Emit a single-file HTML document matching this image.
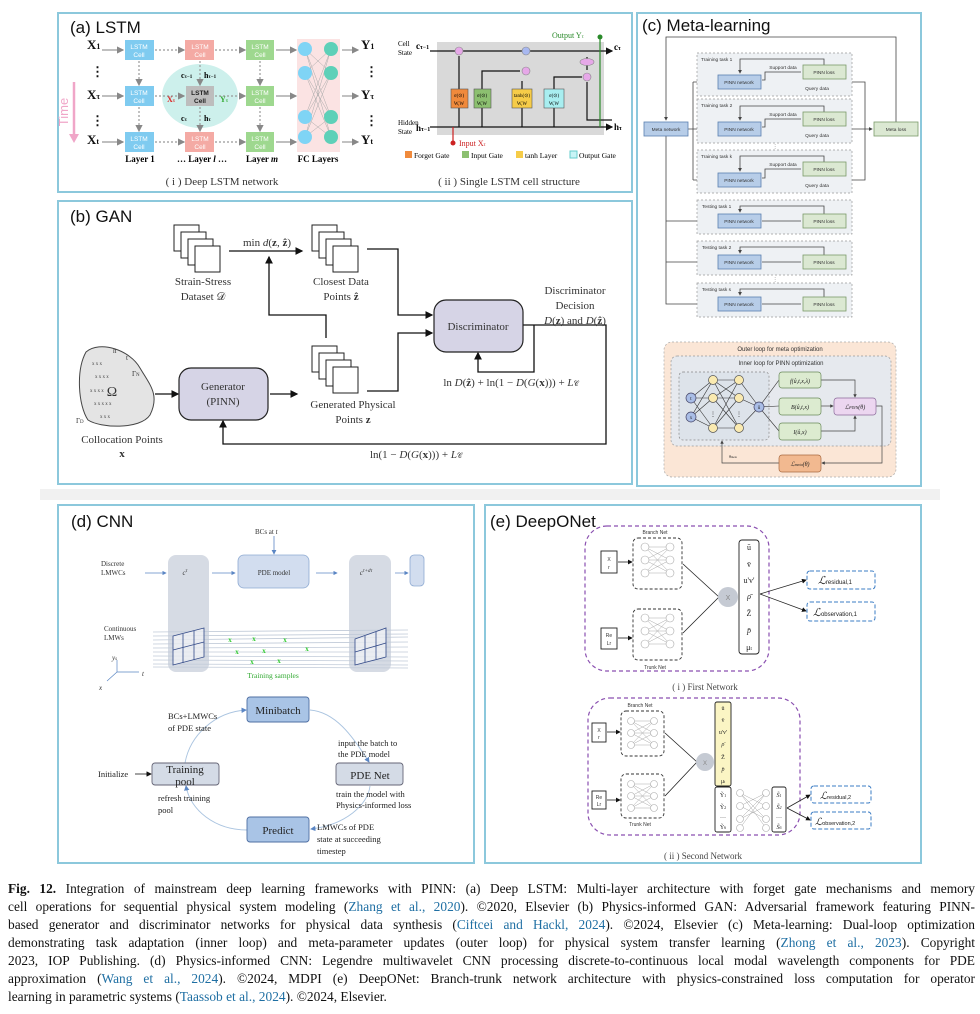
<!DOCTYPE html>
<html><head><meta charset="utf-8"><style>
body{margin:0;background:#fff;width:980px;height:1014px;overflow:hidden;position:relative;font-family:"Liberation Serif",serif}
svg{position:absolute;left:0;top:0}
.cap{position:absolute;left:8px;width:967px;font-size:13.4px;line-height:18px;color:#111;font-family:"Liberation Serif",serif}
.cap div{text-align:justify;text-align-last:justify;height:18px;white-space:nowrap}
.cap div.last{text-align-last:left}
.cap a{color:#1f6fa3;text-decoration:none}
</style></head><body>
<svg width="980" height="1014" viewBox="0 0 980 1014" font-family="Liberation Serif, serif">
<defs>
<marker id="ak" markerWidth="6" markerHeight="6" refX="5" refY="3" orient="auto"><path d="M0,0L6,3L0,6z" fill="#111"/></marker>
<marker id="ag" markerWidth="6" markerHeight="6" refX="5" refY="3" orient="auto"><path d="M0,0L6,3L0,6z" fill="#888"/></marker>
<marker id="ab" markerWidth="6" markerHeight="6" refX="5" refY="3" orient="auto"><path d="M0,0L6,3L0,6z" fill="#5b86c4"/></marker>
<marker id="as" markerWidth="5" markerHeight="5" refX="4" refY="2.5" orient="auto"><path d="M0,0L5,2.5L0,5z" fill="#444"/></marker>
</defs>
<rect x="40" y="489" width="900" height="11" fill="#f1f1f1"/>
<g fill="none" stroke="#8cc8dc" stroke-width="2">
<rect x="58" y="13" width="574" height="179"/>
<rect x="58" y="201" width="574" height="283"/>
<rect x="637" y="13" width="284" height="473"/>
<rect x="58" y="505" width="416" height="358"/>
<rect x="485" y="505" width="436" height="358"/>
</g>
<g font-family="Liberation Sans, sans-serif" font-size="17" fill="#111">
<text x="70" y="33">(a) LSTM</text><text x="70" y="222">(b) GAN</text><text x="642" y="31">(c) Meta-learning</text>
<text x="71" y="527">(d) CNN</text><text x="490" y="527">(e) DeepONet</text></g>

<!-- ===== (a) ===== -->
<line x1="74" y1="82" x2="74" y2="134" stroke="#f0a6c8" stroke-width="2.5"/>
<path d="M69,134L79,134L74,143Z" fill="#f0a6c8"/>
<text transform="translate(68,112) rotate(-90)" font-family="Liberation Sans,sans-serif" font-size="13" fill="#f0a6c8" text-anchor="middle">Time</text>
<g font-size="13" font-weight="bold" fill="#111"><text x="87" y="49">X<tspan font-size="8">1</tspan></text><text x="87" y="99">X<tspan font-size="8">τ</tspan></text><text x="87" y="144">X<tspan font-size="8">t</tspan></text>
<text x="91" y="76">⋮</text><text x="91" y="125">⋮</text>
<text x="361" y="49">Y<tspan font-size="8">1</tspan></text><text x="361" y="99">Y<tspan font-size="8">τ</tspan></text><text x="361" y="144">Y<tspan font-size="8">t</tspan></text>
<text x="365" y="76">⋮</text><text x="365" y="125">⋮</text></g>
<ellipse cx="200" cy="96" rx="38" ry="32" fill="#cdf0ec"/>
<rect x="297" y="39" width="43" height="113" fill="#fbe3e3"/>
<g stroke="#999" stroke-width="1.2">
<line x1="102" y1="50" x2="123" y2="50" marker-end="url(#ag)"/><line x1="102" y1="96" x2="123" y2="96" marker-end="url(#ag)"/><line x1="102" y1="142" x2="123" y2="142" marker-end="url(#ag)"/>
<line x1="276" y1="50" x2="296" y2="50" marker-end="url(#ag)"/><line x1="276" y1="96" x2="296" y2="96" marker-end="url(#ag)"/><line x1="276" y1="142" x2="296" y2="142" marker-end="url(#ag)"/>
<line x1="342" y1="50" x2="358" y2="50" marker-end="url(#ag)"/><line x1="342" y1="96" x2="358" y2="96" marker-end="url(#ag)"/><line x1="342" y1="142" x2="358" y2="142" marker-end="url(#ag)"/>
</g>
<g stroke="#999" stroke-width="1.2" stroke-dasharray="2,2">
<line x1="155" y1="50" x2="184" y2="50" marker-end="url(#ag)"/><line x1="155" y1="96" x2="184" y2="96" marker-end="url(#ag)"/><line x1="155" y1="142" x2="184" y2="142" marker-end="url(#ag)"/>
<line x1="215" y1="50" x2="245" y2="50" marker-end="url(#ag)"/><line x1="215" y1="96" x2="245" y2="96" marker-end="url(#ag)"/><line x1="215" y1="142" x2="245" y2="142" marker-end="url(#ag)"/>
<line x1="139" y1="61" x2="139" y2="85" marker-end="url(#ag)"/><line x1="139" y1="107" x2="139" y2="131" marker-end="url(#ag)"/>
<line x1="200" y1="61" x2="200" y2="85" marker-end="url(#ag)"/><line x1="200" y1="107" x2="200" y2="131" marker-end="url(#ag)"/>
<line x1="260" y1="61" x2="260" y2="85" marker-end="url(#ag)"/><line x1="260" y1="107" x2="260" y2="131" marker-end="url(#ag)"/>
</g>
<g font-family="Liberation Sans,sans-serif" font-size="6.5" fill="#fff" text-anchor="middle">
<rect x="125" y="40" width="29" height="20" fill="#7fcbf0"/><text x="139" y="49">LSTM</text><text x="139" y="57">Cell</text>
<rect x="125" y="86" width="29" height="20" fill="#7fcbf0"/><text x="139" y="95">LSTM</text><text x="139" y="103">Cell</text>
<rect x="125" y="132" width="29" height="20" fill="#7fcbf0"/><text x="139" y="141">LSTM</text><text x="139" y="149">Cell</text>
<rect x="185" y="40" width="29" height="20" fill="#f4aaa4"/><text x="200" y="49">LSTM</text><text x="200" y="57">Cell</text>
<rect x="186" y="86" width="28" height="20" fill="#bdbdbd"/><text x="200" y="95" fill="#222" font-weight="bold">LSTM</text><text x="200" y="103" fill="#222" font-weight="bold">Cell</text>
<rect x="185" y="132" width="29" height="20" fill="#f4aaa4"/><text x="200" y="141">LSTM</text><text x="200" y="149">Cell</text>
<rect x="246" y="40" width="28" height="20" fill="#9ed88f"/><text x="260" y="49">LSTM</text><text x="260" y="57">Cell</text>
<rect x="246" y="86" width="28" height="20" fill="#9ed88f"/><text x="260" y="95">LSTM</text><text x="260" y="103">Cell</text>
<rect x="246" y="132" width="28" height="20" fill="#9ed88f"/><text x="260" y="141">LSTM</text><text x="260" y="149">Cell</text>
</g>
<g font-size="8" font-weight="bold"><text x="181" y="78">c<tspan font-size="5">τ−1</tspan></text><text x="204" y="78">h<tspan font-size="5">τ−1</tspan></text>
<text x="181" y="121">c<tspan font-size="5">τ</tspan></text><text x="204" y="121">h<tspan font-size="5">τ</tspan></text>
<text x="167" y="102" fill="#d22">X<tspan font-size="5">τ</tspan></text><text x="220" y="102" fill="#3a3">Y<tspan font-size="5">τ</tspan></text></g>
<g stroke="#aaa" stroke-width="0.5"><path d="M305,49L331,73M305,49L331,117M305,49L331,137M305,73L331,49M305,73L331,117M305,73L331,137M305,117L331,49M305,117L331,73M305,117L331,137M305,137L331,49M305,137L331,73M305,137L331,117"/></g>
<g fill="#7fd4f5"><circle cx="305" cy="49" r="7"/><circle cx="305" cy="73" r="7"/><circle cx="305" cy="117" r="7"/><circle cx="305" cy="137" r="7"/></g>
<g fill="#5ed0b8"><circle cx="331" cy="49" r="7"/><circle cx="331" cy="73" r="7"/><circle cx="331" cy="117" r="7"/><circle cx="331" cy="137" r="7"/></g>
<g font-size="9" font-weight="bold" text-anchor="middle"><text x="140" y="162">Layer 1</text><text x="202" y="162">… Layer <tspan font-style="italic">l</tspan> …</text><text x="262" y="162">Layer <tspan font-style="italic">m</tspan></text><text x="318" y="162">FC Layers</text></g>
<text x="222" y="185" font-size="11" text-anchor="middle" fill="#333">( i ) Deep LSTM network</text>
<rect x="437" y="42" width="167" height="93" fill="#d9d9d9"/>
<g stroke="#111" stroke-width="1.2" fill="none">
<line x1="430" y1="51" x2="612" y2="51" marker-end="url(#ak)"/>
<path d="M430,127L612,127" marker-end="url(#ak)"/>
<path d="M459,127V108M482,127V108M522,127V108M554,127V108" />
<path d="M459,89V56M482,89V71H520M522,89V81M554,89V77H582M587,70V57M587,82V120H612"/>
<line x1="600" y1="37" x2="600" y2="127" stroke="#2a8a2a"/>
<line x1="453" y1="127" x2="453" y2="143" stroke="#c22"/>
</g>
<circle cx="600" cy="37" r="2.5" fill="#2a8a2a"/><circle cx="453" cy="143" r="2.5" fill="#c22"/>
<g stroke="#888" stroke-width="0.6"><circle cx="459" cy="51" r="4" fill="#e6a8e8"/><circle cx="526" cy="51" r="4" fill="#a8b8f0"/><circle cx="526" cy="71" r="4" fill="#e6a8e8"/><ellipse cx="587" cy="62" rx="7" ry="3.5" fill="#e6a8e8"/><circle cx="587" cy="77" r="4" fill="#e6a8e8"/></g>
<g stroke="#555" stroke-width="0.6"><rect x="451" y="89" width="17" height="19" fill="#f08a3c"/><rect x="474" y="89" width="17" height="19" fill="#8cc070"/><rect x="512" y="89" width="20" height="19" fill="#f6cc48"/><rect x="544" y="89" width="20" height="19" fill="#a8eef0"/></g>
<g font-size="5" text-anchor="middle"><text x="459" y="97">σ(⊙)</text><text x="482" y="97">σ(⊙)</text><text x="522" y="97">tanh(⊙)</text><text x="554" y="97">σ(⊙)</text>
<text x="459" y="105">W,W</text><text x="482" y="105">W,W</text><text x="522" y="105">W,W</text><text x="554" y="105">W,W</text></g>
<g font-size="7"><text x="398" y="46">Cell</text><text x="398" y="55">State</text><text x="398" y="125">Hidden</text><text x="398" y="134">State</text>
<text x="416" y="49" font-weight="bold" font-size="9">c<tspan font-size="6">τ−1</tspan></text><text x="416" y="131" font-weight="bold" font-size="9">h<tspan font-size="6">τ−1</tspan></text>
<text x="614" y="50" font-weight="bold" font-size="9">c<tspan font-size="6">τ</tspan></text><text x="614" y="130" font-weight="bold" font-size="9">h<tspan font-size="6">τ</tspan></text>
<text x="552" y="38" fill="#2a8a2a" font-size="8">Output Y<tspan font-size="5">τ</tspan></text><text x="459" y="146" fill="#c22" font-size="8">Input X<tspan font-size="5">τ</tspan></text></g>
<g font-size="7.5"><rect x="405" y="151" width="7" height="7" fill="#f08a3c"/><text x="414" y="158">Forget Gate</text>
<rect x="462" y="151" width="7" height="7" fill="#8cc070"/><text x="471" y="158">Input Gate</text>
<rect x="516" y="151" width="7" height="7" fill="#f6cc48"/><text x="525" y="158">tanh Layer</text>
<rect x="570" y="151" width="7" height="7" fill="#c8f4f6" stroke="#6cc"/><text x="579" y="158">Output Gate</text></g>
<text x="509" y="185" font-size="11" text-anchor="middle" fill="#333">( ii ) Single LSTM cell structure</text>

<!-- ===== (b) ===== -->
<g fill="#fff" stroke="#222" stroke-width="1">
<rect x="174" y="225" width="25" height="26"/><rect x="181" y="232" width="25" height="26"/><rect x="188" y="239" width="25" height="26"/><rect x="195" y="246" width="25" height="26"/>
<rect x="312" y="225" width="25" height="26"/><rect x="319" y="232" width="25" height="26"/><rect x="326" y="239" width="25" height="26"/><rect x="333" y="246" width="25" height="26"/>
<rect x="312" y="346" width="25" height="26"/><rect x="319" y="353" width="25" height="26"/><rect x="326" y="360" width="25" height="26"/><rect x="333" y="367" width="25" height="26"/>
</g>
<g stroke="#111" stroke-width="1.3" fill="none">
<line x1="229" y1="251" x2="302" y2="251" marker-end="url(#ak)"/>
<path d="M326,338V315H269V257" marker-end="url(#ak)"/>
<path d="M367,249H398V315H432" marker-end="url(#ak)"/>
<path d="M367,391H398V333H432" marker-end="url(#ak)"/>
<line x1="155" y1="394" x2="178" y2="394" marker-end="url(#ak)"/>
<line x1="270" y1="394" x2="297" y2="394" marker-end="url(#ak)"/>
<path d="M523,325H606V444H223V421" marker-end="url(#ak)"/>
<path d="M534,325V372H478V353" marker-end="url(#ak)"/>
</g>
<rect x="434" y="300" width="89" height="52" rx="12" fill="#d6d4e6" stroke="#222" stroke-width="1.2"/>
<rect x="179" y="368" width="89" height="52" rx="12" fill="#d6d4e6" stroke="#222" stroke-width="1.2"/>
<path d="M86,352C100,340 130,350 140,368C150,385 160,395 150,415C140,430 100,428 88,420C78,405 76,370 86,352Z" fill="#e4e4e4" stroke="#444"/>
<g font-size="11" fill="#333" text-anchor="middle">
<text x="478" y="330">Discriminator</text><text x="223" y="390">Generator</text><text x="223" y="405">(PINN)</text>
<text x="203" y="285">Strain-Stress</text><text x="203" y="300">Dataset 𝒟</text>
<text x="341" y="285">Closest Data</text><text x="341" y="300">Points <tspan font-weight="bold">ẑ</tspan></text>
<text x="353" y="408">Generated Physical</text><text x="353" y="423">Points <tspan font-weight="bold">z</tspan></text>
<text x="122" y="443">Collocation Points</text><text x="122" y="457" font-weight="bold">x</text>
<text x="575" y="294">Discriminator</text><text x="575" y="309">Decision</text><text x="575" y="324"><tspan font-style="italic">D</tspan>(<tspan font-weight="bold">z</tspan>) and <tspan font-style="italic">D</tspan>(<tspan font-weight="bold">ẑ</tspan>)</text>
<text x="267" y="246">min <tspan font-style="italic">d</tspan>(<tspan font-weight="bold">z</tspan>, <tspan font-weight="bold">ẑ</tspan>)</text>
<text x="416" y="458">ln(1 − <tspan font-style="italic">D</tspan>(<tspan font-style="italic">G</tspan>(<tspan font-weight="bold">x</tspan>))) + <tspan font-style="italic">L</tspan><tspan font-size="7">𝒞</tspan></text>
<text x="511" y="386">ln <tspan font-style="italic">D</tspan>(<tspan font-weight="bold">ẑ</tspan>) + ln(1 − <tspan font-style="italic">D</tspan>(<tspan font-style="italic">G</tspan>(<tspan font-weight="bold">x</tspan>))) + <tspan font-style="italic">L</tspan><tspan font-size="7">𝒞</tspan></text>
<text x="112" y="396" font-size="14">Ω</text></g>
<g font-size="7" fill="#333"><text x="113" y="353">n</text><text x="126" y="360">t</text><text x="132" y="376">Γ<tspan font-size="5">N</tspan></text><text x="76" y="423">Γ<tspan font-size="5">D</tspan></text></g>
<g fill="#333" font-size="5"><text x="92" y="365">x x x</text><text x="95" y="378">x  x x x</text><text x="90" y="392">x x   x x</text><text x="94" y="405">x x x x x</text><text x="100" y="418">x x x</text></g>

<!-- ===== (c) ===== -->
<g stroke="#444" stroke-width="0.8" fill="none">
<path d="M896,122V37H666V120" marker-end="url(#as)"/>
<path d="M666,136V304H716" marker-end="url(#as)"/>
<path d="M666,221H716M666,262H716" marker-end="url(#as)"/>
<path d="M688,129H716" marker-end="url(#as)"/>
<path d="M693,82V180M693,82H716M693,180H716" marker-end="url(#as)"/>
<path d="M762,129H872" marker-end="url(#as)"/>
<path d="M762,82H865V180H762"/>
</g>
<g fill="#eef1f4" stroke="#999" stroke-width="0.7" stroke-dasharray="2,2">
<rect x="697" y="53" width="155" height="43"/><rect x="697" y="99" width="155" height="44"/><rect x="697" y="150" width="155" height="43"/>
<rect x="697" y="200" width="155" height="34"/><rect x="697" y="241" width="155" height="34"/><rect x="697" y="283" width="155" height="34"/>
</g>
<g stroke="#444" stroke-width="0.8" fill="none">
<path d="M762,80H765V72H801M824,65V59H740V73" marker-end="url(#as)"/>
<path d="M762,127H765V119H801M824,112V106H740V120" marker-end="url(#as)"/>
<path d="M762,178H765V169H801M824,162V156H740V171" marker-end="url(#as)"/>
<path d="M762,221H801M824,214V206H740V212" marker-end="url(#as)"/>
<path d="M762,262H801M824,255V247H740V253" marker-end="url(#as)"/>
<path d="M762,304H801M824,297V289H740V295" marker-end="url(#as)"/>
</g>
<g stroke="#5a7fb0" stroke-width="0.8" fill="#b7cde8">
<rect x="644" y="122" width="44" height="14"/><rect x="718" y="75" width="43" height="14"/><rect x="718" y="122" width="43" height="14"/><rect x="718" y="173" width="43" height="14"/><rect x="718" y="214" width="43" height="14"/><rect x="718" y="255" width="43" height="14"/><rect x="718" y="297" width="43" height="14"/></g>
<g stroke="#7a9a6a" stroke-width="0.8" fill="#dbe8d2">
<rect x="874" y="122" width="44" height="14"/><rect x="803" y="65" width="43" height="14"/><rect x="803" y="112" width="43" height="14"/><rect x="803" y="162" width="43" height="14"/><rect x="803" y="214" width="43" height="14"/><rect x="803" y="255" width="43" height="14"/><rect x="803" y="297" width="43" height="14"/></g>
<g font-family="Liberation Sans,sans-serif" font-size="4.8" fill="#333" text-anchor="middle">
<text x="666" y="131">Meta network</text><text x="896" y="131">Meta loss</text>
<text x="739" y="84">PINN network</text><text x="739" y="131">PINN network</text><text x="739" y="182">PINN network</text><text x="739" y="223">PINN network</text><text x="739" y="264">PINN network</text><text x="739" y="306">PINN network</text>
<text x="824" y="74">PINN loss</text><text x="824" y="121">PINN loss</text><text x="824" y="171">PINN loss</text><text x="824" y="223">PINN loss</text><text x="824" y="264">PINN loss</text><text x="824" y="306">PINN loss</text>
<text x="783" y="69">Support data</text><text x="783" y="116">Support data</text><text x="783" y="166">Support data</text>
<text x="817" y="90">Query data</text><text x="817" y="137">Query data</text><text x="817" y="187">Query data</text>
<text x="775" y="148">⋮</text><text x="775" y="281">⋮</text></g>
<g font-family="Liberation Sans,sans-serif" font-size="4.8" fill="#333">
<text x="701" y="61">Training task 1</text><text x="701" y="107">Training task 2</text><text x="701" y="158">Training task k</text>
<text x="702" y="208">Testing task 1</text><text x="702" y="249">Testing task 2</text><text x="702" y="291">Testing task s</text></g>
<rect x="664" y="342" width="232" height="135" rx="8" fill="#fbe6d6" stroke="#aaa" stroke-width="0.7" stroke-dasharray="2,2"/>
<rect x="671" y="356" width="220" height="90" rx="6" fill="#e6e9ee" stroke="#999" stroke-width="0.7" stroke-dasharray="2,2"/>
<rect x="679" y="372" width="90" height="68" rx="4" fill="#dde3ea" stroke="#888" stroke-width="0.7" stroke-dasharray="2,2"/>
<g font-family="Liberation Sans,sans-serif" font-size="6" fill="#333" text-anchor="middle"><text x="780" y="351">Outer loop for meta optimization</text><text x="781" y="365">Inner loop for PINN optimization</text></g>
<g stroke="#333" stroke-width="0.6">
<path d="M691,398L713,380M691,398L713,398M691,398L713,428M691,417L713,380M691,417L713,398M691,417L713,428M713,380L739,380M713,380L739,398M713,380L739,428M713,398L739,380M713,398L739,398M713,398L739,428M713,428L739,380M713,428L739,398M713,428L739,428M739,380L759,407M739,398L759,407M739,428L759,407M759,407L779,380M759,407L779,406M759,407L779,431"/>
</g>
<g stroke="#555" stroke-width="0.7" fill="#faeab0"><circle cx="713" cy="380" r="4.5"/><circle cx="713" cy="398" r="4.5"/><circle cx="713" cy="428" r="4.5"/><circle cx="739" cy="380" r="4.5"/><circle cx="739" cy="398" r="4.5"/><circle cx="739" cy="428" r="4.5"/></g>
<g stroke="#446" stroke-width="0.7" fill="#a9bde6"><circle cx="691" cy="398" r="5"/><circle cx="691" cy="417" r="5"/><circle cx="759" cy="407" r="5"/></g>
<g stroke="#444" stroke-width="0.7" fill="none">
<path d="M821,380H855V397" marker-end="url(#as)"/><path d="M821,406H833" marker-end="url(#as)"/><path d="M821,431H855V416" marker-end="url(#as)"/>
<path d="M876,406H882V463H822" marker-end="url(#as)"/><path d="M779,463H722V441" marker-end="url(#as)"/></g>
<g stroke="#6a8a5a" stroke-width="0.7" fill="#dcebd0"><rect x="779" y="372" width="42" height="16" rx="3"/><rect x="779" y="398" width="42" height="17" rx="3"/><rect x="779" y="423" width="42" height="17" rx="3"/></g>
<rect x="834" y="398" width="42" height="17" rx="3" fill="#ecd6f0" stroke="#8a6a9a" stroke-width="0.7"/>
<rect x="779" y="455" width="42" height="17" rx="3" fill="#f2b990" stroke="#a86a40" stroke-width="0.7"/>
<g font-size="6" fill="#222" text-anchor="middle"><text x="800" y="383" font-style="italic">f(û,t,x,λ)</text><text x="800" y="409" font-style="italic">B(û,t,x)</text><text x="800" y="434" font-style="italic">I(û,x)</text>
<text x="855" y="409" font-style="italic">ℒ<tspan font-size="4">PINN</tspan>(θ)</text><text x="800" y="466" font-style="italic">ℒ<tspan font-size="4">meta</tspan>(θ)</text>
<text x="691" y="400" font-size="5">t</text><text x="691" y="419" font-size="5">x</text><text x="759" y="409" font-size="5">û</text><text x="713" y="416">⋮</text><text x="739" y="416">⋮</text><text x="733" y="458" font-size="4">θ<tspan font-size="3">meta</tspan></text></g>

<!-- ===== (d) ===== -->
<g font-size="7" fill="#333">
<text x="255" y="534">BCs at <tspan font-style="italic">t</tspan></text>
<text x="101" y="566">Discrete</text><text x="101" y="575">LMWCs</text>
<text x="104" y="631">Continuous</text><text x="104" y="640">LMWs</text>
<text x="112" y="660" font-style="italic">y<tspan font-size="5">s</tspan></text><text x="142" y="676" font-style="italic">t</text><text x="99" y="690" font-style="italic">x</text></g>
<line x1="274" y1="536" x2="274" y2="554" stroke="#5b86c4" stroke-width="0.8" marker-end="url(#ab)"/>
<rect x="168" y="555" width="41" height="117" rx="8" fill="#d6dbe4"/>
<rect x="349" y="555" width="42" height="117" rx="8" fill="#d6dbe4"/>
<g stroke="#c0cad8" stroke-width="0.8">
<line x1="153" y1="632" x2="408" y2="630"/><line x1="153" y1="636" x2="408" y2="634"/><line x1="153" y1="640" x2="408" y2="637"/><line x1="153" y1="644" x2="408" y2="642"/><line x1="153" y1="648" x2="408" y2="647"/><line x1="153" y1="652" x2="408" y2="652"/><line x1="153" y1="656" x2="408" y2="657"/><line x1="153" y1="660" x2="408" y2="661"/><line x1="153" y1="664" x2="408" y2="665"/><line x1="153" y1="667" x2="408" y2="668"/></g>
<rect x="238" y="555" width="71" height="33" rx="6" fill="#d2ddef" stroke="#8eaad2" stroke-width="0.8"/>
<rect x="410" y="555" width="14" height="31" rx="4" fill="#d2ddef" stroke="#8eaad2" stroke-width="0.8"/>
<g stroke="#5b86c4" stroke-width="0.7" marker-end="url(#ab)"><line x1="145" y1="573" x2="166" y2="573"/><line x1="212" y1="573" x2="235" y2="573"/><line x1="316" y1="573" x2="337" y2="573"/><line x1="395" y1="573" x2="408" y2="573"/></g>
<g font-size="7" fill="#333" text-anchor="middle"><text x="274" y="575">PDE model</text><text x="185" y="575" font-style="italic">c<tspan font-size="5" dy="-3">τ</tspan></text><text x="366" y="575" font-style="italic">c<tspan font-size="5" dy="-3">τ+dτ</tspan></text></g>
<g stroke="#334a88" stroke-width="0.8" fill="#fff" fill-opacity="0.5"><path d="M173,636L204,628V657L173,665Z"/><path d="M355,639L386,628V657L355,665Z"/><path d="M183,634V663M194,631V660M173,650L204,642" fill="none"/><path d="M365,636V662M376,632V659M355,652L386,643" fill="none"/></g>
<g fill="#3c3" font-size="7" font-weight="bold" text-anchor="middle"><text x="230" y="642">x</text><text x="254" y="641">x</text><text x="285" y="642">x</text><text x="237" y="654">x</text><text x="264" y="653">x</text><text x="307" y="651">x</text><text x="252" y="664">x</text><text x="279" y="663">x</text></g>
<text x="273" y="678" font-size="7.5" fill="#3a3" text-anchor="middle">Training samples</text>
<g stroke="#5b86c4" stroke-width="0.7" fill="none"><path d="M117,672V660M117,672H139M117,672L107,681" /></g>
<g stroke="#aac4e0" stroke-width="0.9" fill="none">
<path d="M310,710C335,712 352,735 369,762" marker-end="url(#ab)"/>
<path d="M370,786C368,805 345,825 311,829" marker-end="url(#ab)"/>
<path d="M247,830C215,830 190,810 186,786" marker-end="url(#ab)"/>
<path d="M185,763C190,735 215,712 246,710" marker-end="url(#ab)"/>
<line x1="135" y1="774" x2="151" y2="774" stroke="#333" marker-end="url(#ak)"/></g>
<g stroke="#4f6fa3" stroke-width="0.9"><rect x="247" y="697" width="62" height="25" rx="3" fill="#a9c4e6"/><rect x="247" y="817" width="62" height="25" rx="3" fill="#a9c4e6"/>
<rect x="152" y="763" width="67" height="22" rx="3" fill="#d4dbe6" stroke="#667"/><rect x="336" y="763" width="67" height="22" rx="3" fill="#d4dbe6" stroke="#667"/></g>
<g font-size="11" fill="#222" text-anchor="middle"><text x="278" y="714">Minibatch</text><text x="278" y="834">Predict</text><text x="185" y="773">Training</text><text x="185" y="785">pool</text><text x="370" y="779">PDE Net</text></g>
<g font-size="8.5" fill="#222"><text x="168" y="719">BCs+LMWCs</text><text x="168" y="731">of PDE state</text><text x="98" y="777">Initialize</text>
<text x="158" y="801">refresh training</text><text x="158" y="813">pool</text><text x="338" y="746">input the batch to</text><text x="338" y="757">the PDE model</text>
<text x="336" y="797">train the model with</text><text x="336" y="808">Physics-informed loss</text><text x="317" y="830">LMWCs of PDE</text><text x="317" y="842">state at succeeding</text><text x="317" y="854">timestep</text></g>

<!-- ===== (e) ===== -->
<rect x="585" y="526" width="184" height="145" rx="22" fill="none" stroke="#8a4fb0" stroke-width="1.2" stroke-dasharray="4,3"/>
<rect x="588" y="698" width="212" height="137" rx="22" fill="none" stroke="#8a4fb0" stroke-width="1.2" stroke-dasharray="4,3"/>
<g fill="none" stroke="#333" stroke-width="0.9" stroke-dasharray="3,2"><rect x="633" y="538" width="49" height="51" rx="5"/><rect x="633" y="609" width="49" height="51" rx="5"/><rect x="621" y="711" width="43" height="45" rx="5"/><rect x="621" y="774" width="43" height="44" rx="5"/></g>
<g stroke="#aaa" stroke-width="0.5" fill="none">
<path d="M645,547L670,560M645,547L670,573M645,560L670,547M645,560L670,573M645,573L670,547M645,573L670,560M645,547H670M645,560H670M645,573H670"/>
<path d="M645,618L670,631M645,618L670,644M645,631L670,618M645,631L670,644M645,644L670,618M645,644L670,631M645,618H670M645,631H670M645,644H670"/>
<path d="M631,721L654,733M631,721L654,745M631,733L654,721M631,733L654,745M631,745L654,721M631,745L654,733M631,721H654M631,733H654M631,745H654"/>
<path d="M631,784L654,796M631,784L654,808M631,796L654,784M631,796L654,808M631,808L654,784M631,808L654,796M631,784H654M631,796H654M631,808H654"/>
<path d="M740,793L766,806M740,793L766,819M740,806L766,793M740,806L766,819M740,819L766,793M740,819L766,806M740,828L766,793M740,793L766,828"/></g>
<g fill="#fff" stroke="#aaa" stroke-width="0.6">
<circle cx="645" cy="547" r="4"/><circle cx="645" cy="560" r="4"/><circle cx="645" cy="573" r="4"/><circle cx="670" cy="547" r="4"/><circle cx="670" cy="560" r="4"/><circle cx="670" cy="573" r="4"/>
<circle cx="645" cy="618" r="4"/><circle cx="645" cy="631" r="4"/><circle cx="645" cy="644" r="4"/><circle cx="670" cy="618" r="4"/><circle cx="670" cy="631" r="4"/><circle cx="670" cy="644" r="4"/>
<circle cx="631" cy="721" r="3.5"/><circle cx="631" cy="733" r="3.5"/><circle cx="631" cy="745" r="3.5"/><circle cx="654" cy="721" r="3.5"/><circle cx="654" cy="733" r="3.5"/><circle cx="654" cy="745" r="3.5"/>
<circle cx="631" cy="784" r="3.5"/><circle cx="631" cy="796" r="3.5"/><circle cx="631" cy="808" r="3.5"/><circle cx="654" cy="784" r="3.5"/><circle cx="654" cy="796" r="3.5"/><circle cx="654" cy="808" r="3.5"/>
<circle cx="740" cy="793" r="3.5"/><circle cx="740" cy="806" r="3.5"/><circle cx="740" cy="819" r="3.5"/><circle cx="740" cy="828" r="3.5"/><circle cx="766" cy="793" r="3.5"/><circle cx="766" cy="806" r="3.5"/><circle cx="766" cy="819" r="3.5"/><circle cx="766" cy="828" r="3.5"/></g>
<g stroke="#222" stroke-width="0.8" fill="none">
<line x1="618" y1="562" x2="632" y2="562" marker-end="url(#ak)"/><line x1="618" y1="638" x2="632" y2="638" marker-end="url(#ak)"/>
<line x1="607" y1="732" x2="620" y2="732" marker-end="url(#ak)"/><line x1="607" y1="800" x2="620" y2="800" marker-end="url(#ak)"/>
<path d="M683,564L719,597M683,633L719,597M665,733L697,762M665,796L697,762"/>
<line x1="760" y1="594" x2="806" y2="580" marker-end="url(#ak)"/><line x1="760" y1="594" x2="806" y2="611" marker-end="url(#ak)"/>
<line x1="787" y1="808" x2="810" y2="795" marker-end="url(#ak)"/><line x1="787" y1="808" x2="810" y2="820" marker-end="url(#ak)"/></g>
<g fill="#fff" stroke="#222" stroke-width="0.9"><rect x="601" y="551" width="16" height="22"/><rect x="601" y="628" width="16" height="21"/><rect x="592" y="723" width="14" height="19"/><rect x="592" y="791" width="14" height="18"/>
<rect x="739" y="540" width="20" height="114" rx="3"/><rect x="715" y="787" width="16" height="45" rx="2"/><rect x="772" y="787" width="14" height="45" rx="2"/></g>
<rect x="715" y="702" width="16" height="84" rx="2" fill="#fbf5c4" stroke="#222" stroke-width="0.9"/>
<circle cx="728" cy="597" r="10" fill="#c5cad3"/><circle cx="705" cy="762" r="9" fill="#c5cad3"/>
<g fill="none" stroke="#3b7cc4" stroke-width="1" stroke-dasharray="4,2"><rect x="807" y="571" width="68" height="18" rx="3"/><rect x="807" y="602" width="68" height="19" rx="3"/><rect x="811" y="786" width="60" height="17" rx="3"/><rect x="811" y="812" width="60" height="17" rx="3"/></g>
<g font-family="Liberation Sans,sans-serif" font-size="5" fill="#333" text-anchor="middle"><text x="655" y="534">Branch Net</text><text x="655" y="669">Trunk Net</text><text x="640" y="707">Branch Net</text><text x="640" y="826">Trunk Net</text>
<text x="609" y="561">X</text><text x="609" y="569">r</text><text x="609" y="637">Re</text><text x="609" y="645">Lr</text><text x="599" y="732">X</text><text x="599" y="739">r</text><text x="599" y="799">Re</text><text x="599" y="806">Lr</text>
<text x="728" y="600" font-size="7" fill="#888">X</text><text x="705" y="765" font-size="6" fill="#888">X</text></g>
<g font-size="8" fill="#222" text-anchor="middle"><text x="749" y="550">ū</text><text x="749" y="567">v̄</text><text x="749" y="583">u'v'</text><text x="749" y="599" font-style="italic">ρ̄</text><text x="749" y="616">Z̄</text><text x="749" y="633" font-style="italic">p̄</text><text x="749" y="650">μ<tspan font-size="5">t</tspan></text></g>
<g font-size="6" fill="#222" text-anchor="middle"><text x="723" y="710">ū</text><text x="723" y="722">v̄</text><text x="723" y="734">u'v'</text><text x="723" y="746" font-style="italic">ρ̄</text><text x="723" y="759">Z̄</text><text x="723" y="771" font-style="italic">p̄</text><text x="723" y="783">μ<tspan font-size="4">t</tspan></text>
<text x="723" y="797">Ỹ<tspan font-size="4">1</tspan></text><text x="723" y="809">Ỹ<tspan font-size="4">2</tspan></text><text x="723" y="818">…</text><text x="723" y="829">Ỹ<tspan font-size="4">6</tspan></text>
<text x="779" y="797" font-style="italic">S̃<tspan font-size="4">1</tspan></text><text x="779" y="809" font-style="italic">S̃<tspan font-size="4">2</tspan></text><text x="779" y="818">…</text><text x="779" y="829" font-style="italic">S̃<tspan font-size="4">6</tspan></text></g>
<g font-size="11" fill="#222" font-style="italic"><text x="818" y="584">ℒ<tspan font-size="6" font-style="normal" font-family="Liberation Sans,sans-serif">residual,1</tspan></text><text x="813" y="616">ℒ<tspan font-size="6" font-style="normal" font-family="Liberation Sans,sans-serif">observation,1</tspan></text>
<text x="820" y="799" font-size="10">ℒ<tspan font-size="5.5" font-style="normal" font-family="Liberation Sans,sans-serif">residual,2</tspan></text><text x="815" y="825" font-size="10">ℒ<tspan font-size="5.5" font-style="normal" font-family="Liberation Sans,sans-serif">observation,2</tspan></text></g>
<g font-size="9" fill="#444" text-anchor="middle"><text x="705" y="690">( i ) First Network</text><text x="703" y="859">( ii ) Second Network</text></g>
</svg>
<div class="cap" style="top:880px">
<div><b>Fig. 12.</b> Integration of mainstream deep learning frameworks with PINN: (a) Deep LSTM: Multi-layer architecture with forget gate mechanisms and memory</div>
<div>cell operations for sequential physical system modeling (<a>Zhang et al., 2020</a>). ©2020, Elsevier (b) Physics-informed GAN: Adversarial framework featuring PINN-</div>
<div>based generator and discriminator networks for physical data synthesis (<a>Ciftcei and Hackl, 2024</a>). ©2024, Elsevier (c) Meta-learning: Dual-loop optimization</div>
<div>demonstrating task adaptation (inner loop) and meta-parameter updates (outer loop) for physical system transfer learning (<a>Zhong et al., 2023</a>). Copyright</div>
<div>2023, IOP Publishing. (d) Physics-informed CNN: Legendre multiwavelet CNN processing discrete-to-continuous local modal wavelength components for PDE</div>
<div>approximation (<a>Wang et al., 2024</a>). ©2024, MDPI (e) DeepONet: Branch-trunk network architecture with physics-constrained loss computation for operator</div>
<div class="last">learning in parametric systems (<a>Taassob et al., 2024</a>). ©2024, Elsevier.</div>
</div>
</body></html>
